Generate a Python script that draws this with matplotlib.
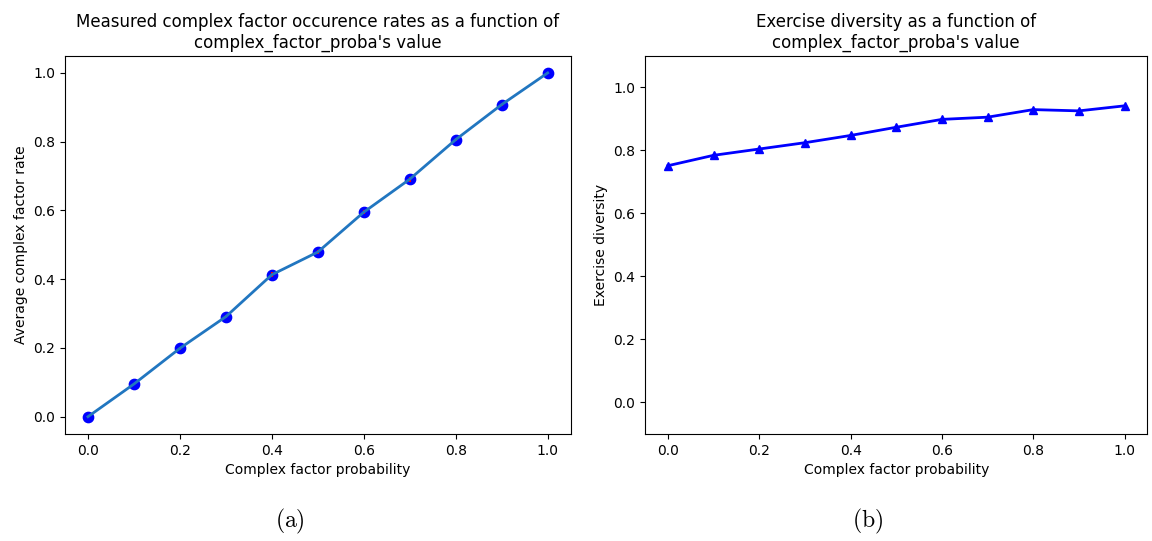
#!/usr/bin/env python3
"""Complex factor occurrence rates and exercise diversity vs complex_factor_proba."""

import matplotlib
matplotlib.use("Agg")
import matplotlib.pyplot as plt

# complex_factor_proba values tested
probas = [0.0, 0.1, 0.2, 0.3, 0.4, 0.5, 0.6, 0.7, 0.8, 0.9, 1.0]

# measured average complex factor rate (a)
occurrence_rates = [0.0, 0.095, 0.199, 0.291, 0.413, 0.479, 0.595, 0.691, 0.806, 0.908, 1.0]
occurrence_err = [0.0, 0.004, 0.004, 0.005, 0.008, 0.006, 0.005, 0.007, 0.005, 0.004, 0.0]

# exercise diversity (b)
diversity = [0.751, 0.784, 0.804, 0.824, 0.847, 0.873, 0.898, 0.905, 0.929, 0.925, 0.941]

plt.rcParams["mathtext.fontset"] = "cm"

fig = plt.figure(figsize=(11.52, 5.41), dpi=100)

ax1 = fig.add_axes([0.0564, 0.198, 0.439, 0.699])
ax1.errorbar(probas, occurrence_rates, yerr=occurrence_err, fmt="none",
             ecolor="red", elinewidth=1.5, zorder=3)
ax1.scatter(probas, occurrence_rates, color="blue", s=55, zorder=2)
ax1.plot(probas, occurrence_rates, color="#2176c0", linewidth=2, zorder=4)
ax1.set_title("Measured complex factor occurence rates as a function of\n"
              "complex_factor_proba's value")
ax1.set_xlabel("Complex factor probability")
ax1.set_ylabel("Average complex factor rate")

ax2 = fig.add_axes([0.560, 0.198, 0.436, 0.699])
ax2.plot(probas, diversity, color="blue", marker="^", markersize=6, linewidth=2)
ax2.set_ylim(-0.1, 1.1)
ax2.set_title("Exercise diversity as a function of\ncomplex_factor_proba's value")
ax2.set_xlabel("Complex factor probability")
ax2.set_ylabel("Exercise diversity")

fig.text(0.252, 0.025, r"$\mathrm{(a)}$", ha="center", fontsize=17)
fig.text(0.753, 0.025, r"$\mathrm{(b)}$", ha="center", fontsize=17)

fig.savefig("out.png", dpi=100)
